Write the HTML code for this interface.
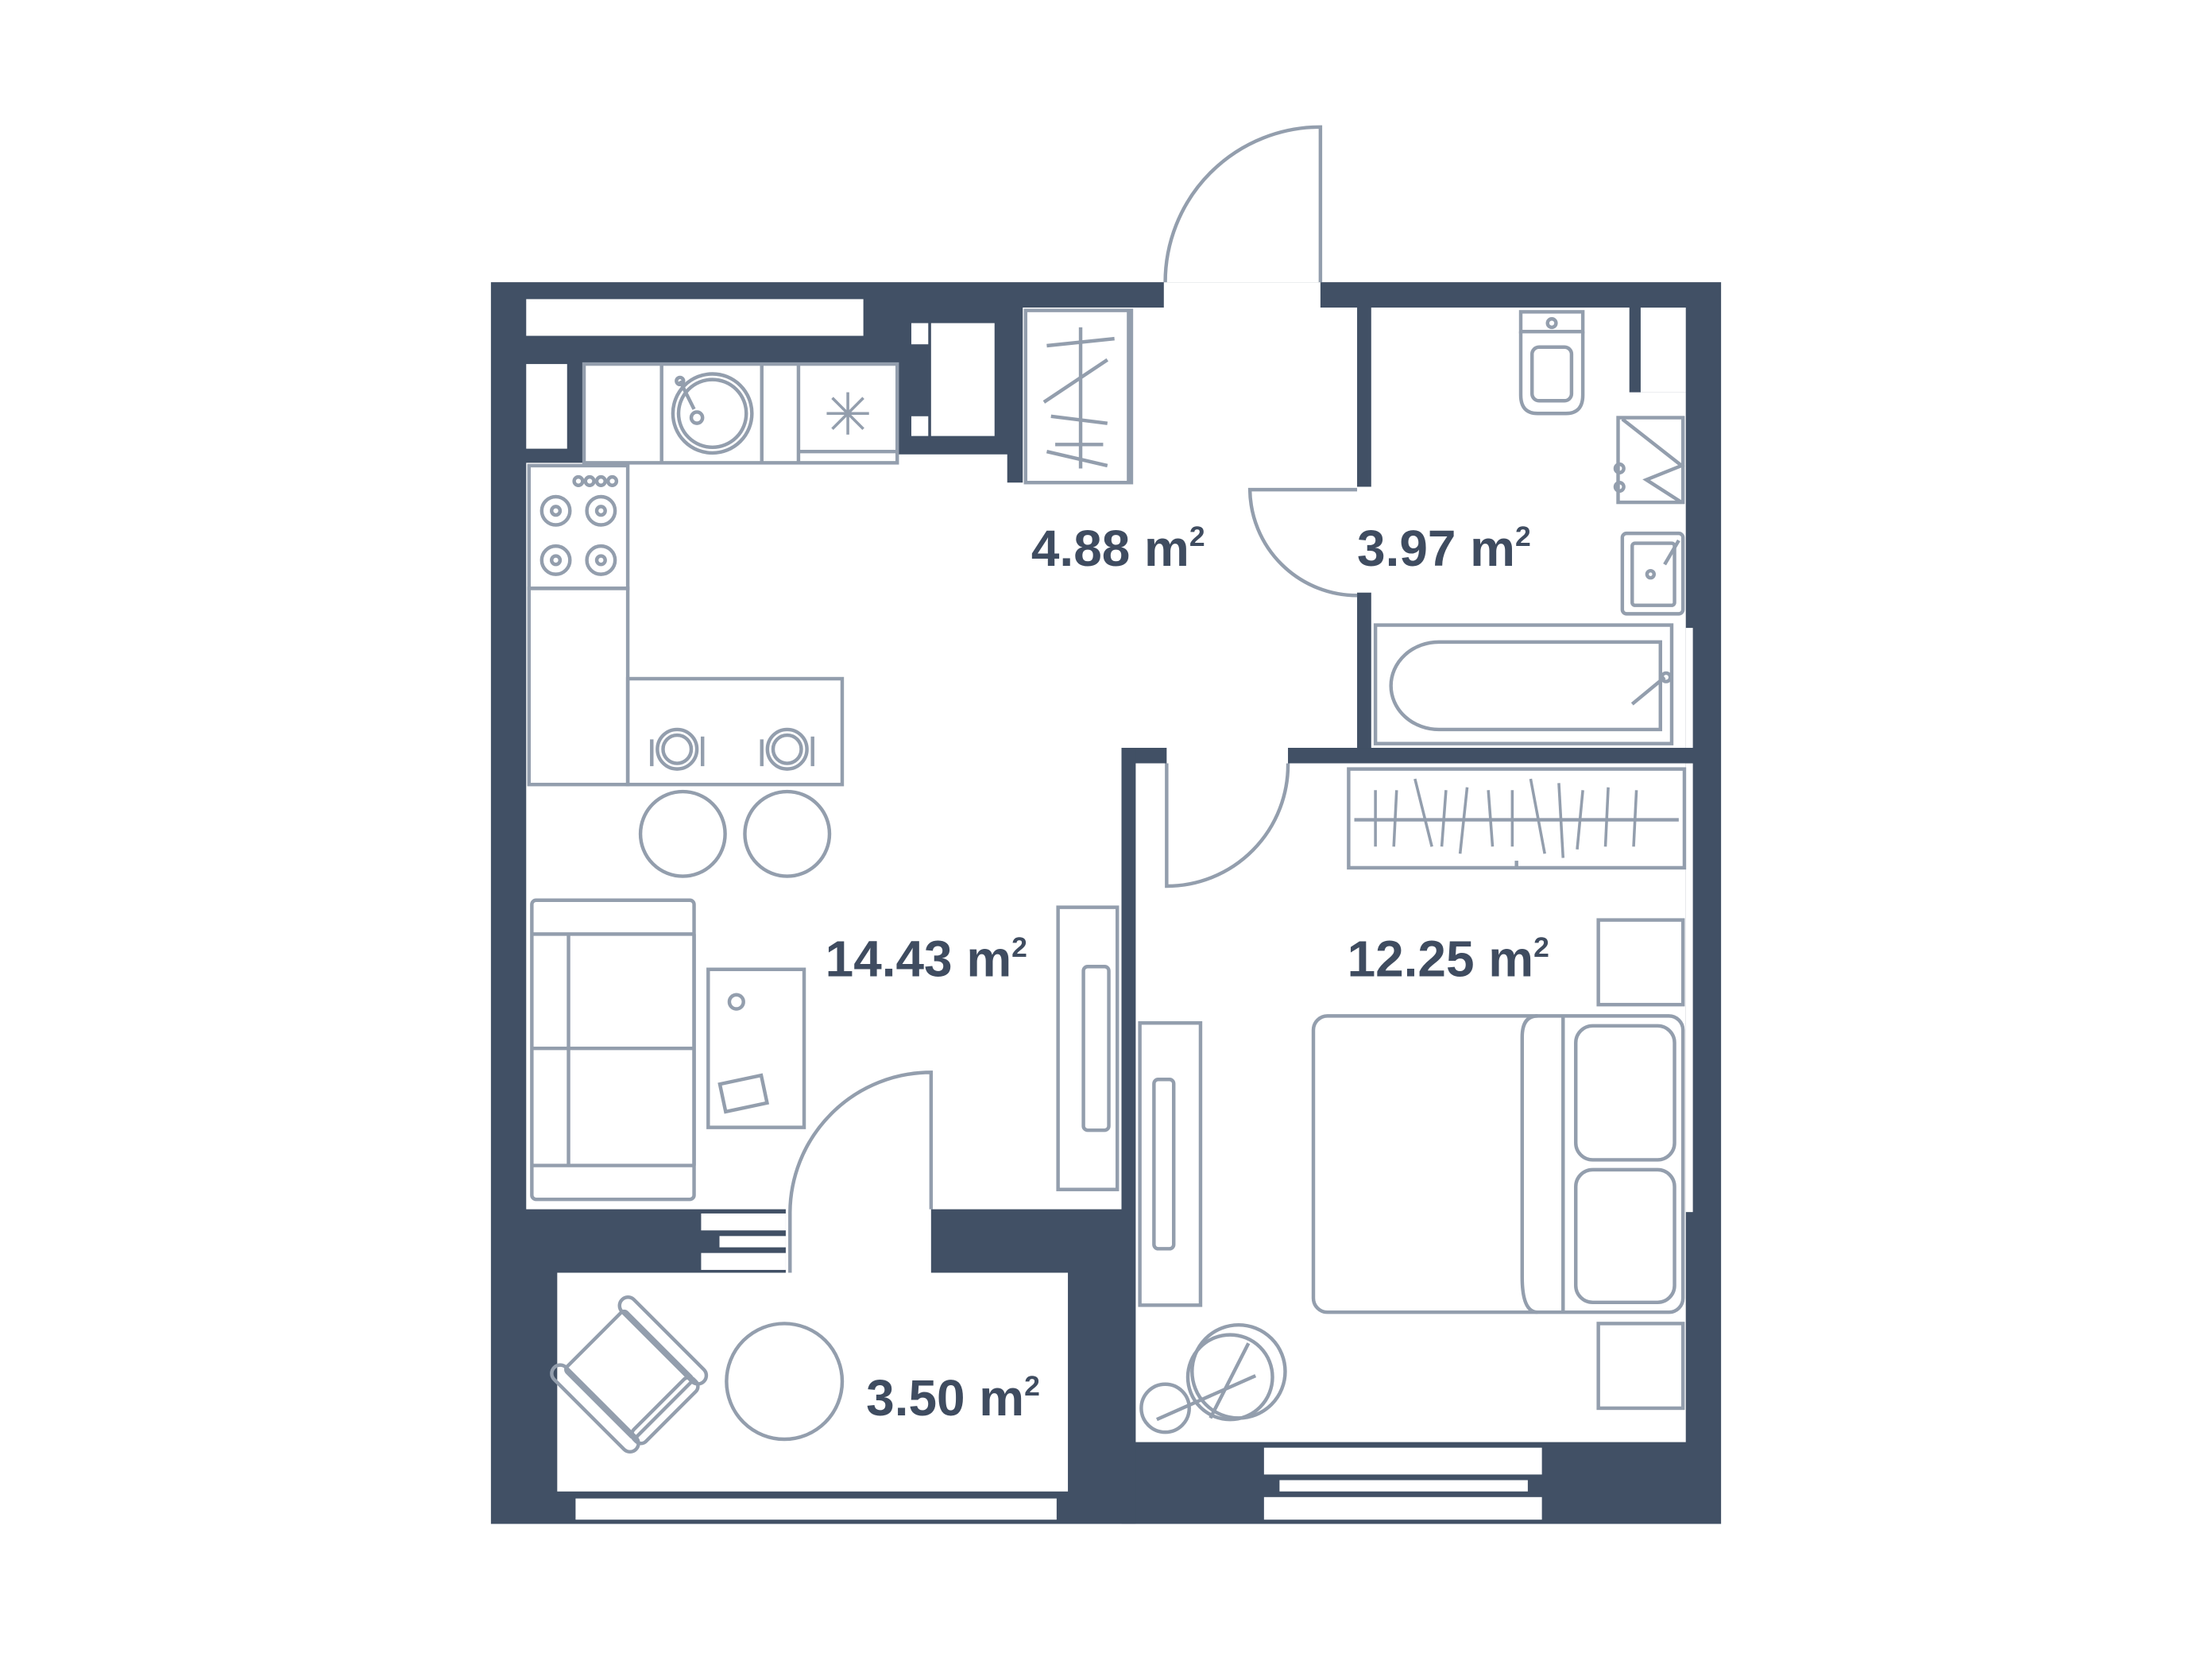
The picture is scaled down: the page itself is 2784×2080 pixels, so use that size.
<!DOCTYPE html>
<html><head><meta charset="utf-8"><style>
html,body{margin:0;padding:0;background:#fff;}
svg{display:block}
text{font-family:"Liberation Sans",sans-serif;font-weight:bold;fill:#3f4c60;}
</style></head><body>
<svg width="2784" height="2080" viewBox="0 0 1568 1171.5" preserveAspectRatio="none" xmlns="http://www.w3.org/2000/svg">
<rect width="1568" height="1172" fill="#fff"/>
<!-- walls -->
<rect x="348" y="200" width="872" height="880" fill="#415065"/>
<g fill="#fff">
<rect x="373" y="212" width="239" height="26"/>
<rect x="373" y="258" width="29" height="60"/>
<polygon points="414,258 636,258 636,322 714,322 714,342 725,342 725,218 825,218 825,200 936,200 936,218 962,218 962,345 972,345 972,218 1155,218 1155,278 1195,278 1195,530 913,530 913,541 1195,541 1195,1022 805,1022 805,541 827,541 827,530 795,530 795,857 660,857 660,902 757,902 757,1057 395,1057 395,902 557,902 557,857 373,857 373,328 414,328"/>
<rect x="1163" y="218" width="32" height="60"/>
<rect x="1195" y="445" width="5" height="85"/>
<rect x="1195" y="541" width="5" height="318"/>
<rect x="408" y="1062" width="341" height="15"/>
<rect x="896" y="1026" width="197" height="19"/>
<rect x="907" y="1049" width="176" height="8"/>
<rect x="896" y="1061" width="197" height="16"/>
<rect x="497" y="860" width="60" height="12"/>
<rect x="510" y="876" width="47" height="8"/>
<rect x="497" y="888" width="60" height="12"/>
<!-- shafts -->
<rect x="660" y="229" width="45" height="80"/>
<rect x="646" y="229" width="12" height="15"/>
<rect x="646" y="295" width="12" height="14"/>
<rect x="980" y="229" width="45" height="80"/>
<rect x="1027" y="229" width="12" height="15"/>
<rect x="1027" y="295" width="12" height="14"/>
</g>
<!-- dark wall bits inside polygon -->
<g fill="#415065">
<rect x="962" y="420" width="10" height="110"/>
<rect x="795" y="530" width="10" height="550"/>
</g>
<g fill="none" stroke="#939ead" stroke-width="2.5">
<!-- doors -->
<path d="M936,200 V90 A110,110 0 0 0 826,200"/>
<path d="M962,347 H886 A76,76 0 0 0 962,422"/>
<path d="M827,541 V628 A86,86 0 0 0 913,541"/>
<path d="M660,857 V760 A100,100 0 0 0 560,860 V902"/>
<!-- kitchen counter -->
<rect x="414" y="258" width="222" height="70" fill="#fff"/>
<line x1="469" y1="258" x2="469" y2="328"/><line x1="540" y1="258" x2="540" y2="328"/><line x1="566" y1="258" x2="566" y2="328"/>
<line x1="566" y1="320" x2="636" y2="320"/>
<circle cx="505" cy="293" r="28"/><circle cx="505" cy="293" r="24"/><circle cx="494" cy="296" r="4"/><line x1="482" y1="270" x2="492" y2="290"/><circle cx="482" cy="270" r="2.5"/>
<g stroke-width="2"><line x1="601" y1="278" x2="601" y2="308"/><line x1="586" y1="293" x2="616" y2="293"/><line x1="590" y1="282" x2="612" y2="304"/><line x1="612" y1="282" x2="590" y2="304"/></g>
<!-- stove -->
<rect x="375" y="330" width="70" height="87" fill="#fff"/>
<circle cx="394" cy="362" r="10"/><circle cx="394" cy="362" r="3"/>
<circle cx="426" cy="362" r="10"/><circle cx="426" cy="362" r="3"/>
<circle cx="394" cy="397" r="10"/><circle cx="394" cy="397" r="3"/>
<circle cx="426" cy="397" r="10"/><circle cx="426" cy="397" r="3"/>
<circle cx="410" cy="341" r="3"/><circle cx="418" cy="341" r="3"/><circle cx="426" cy="341" r="3"/><circle cx="434" cy="341" r="3"/>
<rect x="375" y="417" width="70" height="139"/>
<!-- table -->
<rect x="445" y="481" width="152" height="75"/>
<circle cx="480" cy="531" r="14"/><circle cx="480" cy="531" r="10"/><line x1="462" y1="524" x2="462" y2="543"/><line x1="498" y1="522" x2="498" y2="543"/>
<circle cx="558" cy="531" r="14"/><circle cx="558" cy="531" r="10"/><line x1="540" y1="524" x2="540" y2="543"/><line x1="576" y1="522" x2="576" y2="543"/>
<circle cx="484" cy="591" r="30"/><circle cx="558" cy="591" r="30"/>
<!-- sofa -->
<rect x="377" y="638" width="115" height="212" rx="3"/>
<line x1="403" y1="662" x2="403" y2="826"/><line x1="377" y1="662" x2="492" y2="662"/><line x1="377" y1="743" x2="492" y2="743"/><line x1="377" y1="826" x2="492" y2="826"/><line x1="492" y1="662" x2="492" y2="826"/>
<rect x="502" y="687" width="68" height="112"/>
<circle cx="522" cy="710" r="5"/>
<rect x="512" y="765" width="30" height="20" transform="rotate(-12 527 775)"/>
<!-- tv -->
<rect x="750" y="643" width="42" height="200"/>
<rect x="768" y="685" width="18" height="116" rx="3"/>
<!-- hall wardrobe -->
<rect x="727" y="220" width="75" height="122"/><line x1="800" y1="220" x2="800" y2="342"/>
<line x1="766" y1="232" x2="766" y2="332"/>
<line x1="742" y1="245" x2="790" y2="240"/><line x1="740" y1="285" x2="785" y2="255"/><line x1="745" y1="295" x2="785" y2="300"/><line x1="748" y1="315" x2="782" y2="315"/><line x1="742" y1="320" x2="785" y2="330"/>
<!-- bedroom -->
<rect x="956" y="545" width="238" height="70"/><line x1="960" y1="581" x2="1190" y2="581"/><line x1="1075" y1="610" x2="1075" y2="615"/>
<g stroke-width="2"><line x1="975" y1="560" x2="975" y2="600"/><line x1="990" y1="560" x2="988" y2="600"/><line x1="1003" y1="552" x2="1015" y2="600"/><line x1="1025" y1="560" x2="1022" y2="600"/><line x1="1040" y1="558" x2="1035" y2="605"/><line x1="1055" y1="560" x2="1058" y2="600"/><line x1="1072" y1="560" x2="1072" y2="600"/><line x1="1085" y1="552" x2="1095" y2="605"/><line x1="1105" y1="555" x2="1108" y2="608"/><line x1="1122" y1="560" x2="1118" y2="602"/><line x1="1140" y1="558" x2="1138" y2="600"/><line x1="1160" y1="560" x2="1158" y2="600"/></g>
<rect x="1133" y="652" width="60" height="60"/>
<rect x="1133" y="938" width="60" height="60"/>
<rect x="931" y="720" width="262" height="210" rx="10"/>
<line x1="1108" y1="720" x2="1108" y2="930"/>
<path d="M1090,930 Q1079,930 1079,905 V735 Q1079,720 1090,720"/>
<rect x="1117" y="727" width="70" height="95" rx="12"/>
<rect x="1117" y="829" width="70" height="94" rx="12"/>
<rect x="808" y="725" width="43" height="200"/>
<rect x="818" y="765" width="14" height="120" rx="3"/>
<circle cx="878" cy="972" r="33"/><circle cx="872" cy="976" r="30"/><circle cx="826" cy="998" r="17"/><line x1="820" y1="1006" x2="890" y2="975"/><line x1="885" y1="952" x2="858" y2="1005"/>
<!-- balcony -->
<g transform="rotate(45 448 972)"><rect x="413" y="945" width="70" height="60" rx="3"/><rect x="407" y="935" width="82" height="12" rx="6"/><rect x="407" y="1003" width="82" height="12" rx="6"/><rect x="478" y="945" width="12" height="60" rx="5"/></g>
<circle cx="556" cy="979" r="41"/>
<!-- bathroom -->
<rect x="1078" y="221" width="44" height="14"/><circle cx="1100" cy="229" r="3"/>
<path d="M1078,235 V280 Q1078,293 1090,293 H1110 Q1122,293 1122,280 V235"/>
<rect x="1086" y="246" width="28" height="38" rx="5"/>
<rect x="1147" y="296" width="46" height="60"/><polyline points="1150,297 1192,330 1167,340 1192,356"/>
<circle cx="1148" cy="332" r="3"/><circle cx="1148" cy="345" r="3"/>
<rect x="1150" y="378" width="43" height="57" rx="3"/><rect x="1157" y="385" width="30" height="44" rx="2"/><circle cx="1170" cy="407" r="2.5"/><line x1="1180" y1="400" x2="1190" y2="383"/>
<rect x="975" y="443" width="210" height="84"/>
<path d="M1020,455 H1177 V517 H1020 A34,31 0 0 1 1020,455 Z"/>
<line x1="1157" y1="499" x2="1180" y2="480"/><circle cx="1181" cy="480" r="3"/>
</g>
<!-- labels -->
<text x="731" y="401" font-size="36">4.88 m<tspan font-size="20" dy="-14">2</tspan></text>
<text x="962" y="401" font-size="36">3.97 m<tspan font-size="20" dy="-14">2</tspan></text>
<text x="585" y="692" font-size="36">14.43 m<tspan font-size="20" dy="-14">2</tspan></text>
<text x="955" y="692" font-size="36">12.25 m<tspan font-size="20" dy="-14">2</tspan></text>
<text x="614" y="1003" font-size="36">3.50 m<tspan font-size="20" dy="-14">2</tspan></text>
</svg>
</body></html>
